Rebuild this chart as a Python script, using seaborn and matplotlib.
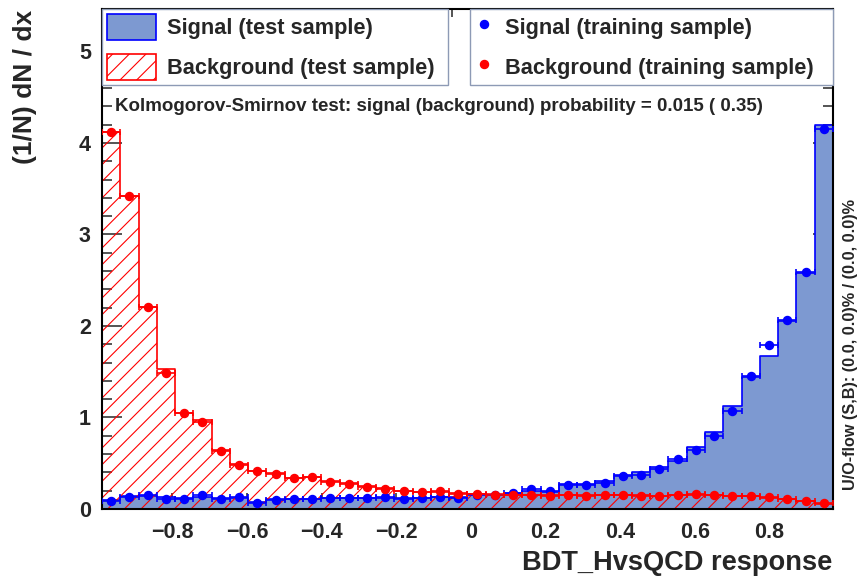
import numpy as np
import matplotlib
matplotlib.use("Agg")
import matplotlib.pyplot as plt
import seaborn as sns
from matplotlib.patches import Patch
from matplotlib.lines import Line2D
from matplotlib.ticker import MultipleLocator

# --- data (40 bins of the BDT response) ---
x_min, x_max, n_bins = -0.989, 0.970, 40

sig_test = [0.10, 0.14, 0.14, 0.13, 0.12, 0.13, 0.12, 0.12, 0.08, 0.11,
            0.11, 0.11, 0.115, 0.12, 0.12, 0.12, 0.12, 0.125, 0.13, 0.13,
            0.16, 0.15, 0.17, 0.20, 0.19, 0.27, 0.27, 0.31, 0.37, 0.40,
            0.46, 0.53, 0.68, 0.845, 1.125, 1.445, 1.675, 2.05, 2.58, 4.20]
sig_train = [0.091, 0.13, 0.15, 0.11, 0.11, 0.15, 0.11, 0.13, 0.07, 0.096,
             0.106, 0.106, 0.118, 0.118, 0.12, 0.135, 0.109, 0.125, 0.135, 0.124,
             0.155, 0.15, 0.175, 0.222, 0.198, 0.258, 0.265, 0.286, 0.362, 0.372,
             0.44, 0.546, 0.645, 0.80, 1.07, 1.45, 1.79, 2.07, 2.59, 4.15]
bkg_test = [4.12, 3.42, 2.21, 1.53, 1.046, 0.97, 0.645, 0.488, 0.415, 0.397,
            0.342, 0.346, 0.306, 0.28, 0.25, 0.225, 0.20, 0.19, 0.185, 0.17,
            0.165, 0.16, 0.155, 0.155, 0.15, 0.15, 0.15, 0.15, 0.15, 0.15,
            0.145, 0.15, 0.155, 0.15, 0.145, 0.14, 0.12, 0.11, 0.085, 0.06]
bkg_train = [4.12, 3.42, 2.21, 1.49, 1.046, 0.955, 0.636, 0.48, 0.412, 0.385,
             0.338, 0.346, 0.295, 0.27, 0.244, 0.222, 0.197, 0.183, 0.192, 0.166,
             0.164, 0.155, 0.152, 0.152, 0.141, 0.148, 0.147, 0.155, 0.153, 0.146,
             0.142, 0.153, 0.16, 0.153, 0.146, 0.146, 0.128, 0.106, 0.091, 0.062]

x_ticks = [-0.8, -0.6, -0.4, -0.2, 0.0, 0.2, 0.4, 0.6, 0.8]
x_tick_labels = ["\u22120.8", "\u22120.6", "\u22120.4", "\u22120.2", "0", "0.2", "0.4", "0.6", "0.8"]
y_ticks = [0, 1, 2, 3, 4, 5]
y_max = 5.46

labels_leg1 = ["Signal (test sample)", "Background (test sample)"]
labels_leg2 = ["Signal (training sample)", "Background (training sample)"]
ks_text = "Kolmogorov-Smirnov test: signal (background) probability = 0.015 ( 0.35)"
uo_text = "U/O-flow (S,B): (0.0, 0.0)% / (0.0, 0.0)%"

SIG_FILL = "#7d99d1"
SIG_LINE = "#0000ff"
BKG_LINE = "#ff0000"

sns.set_style("ticks")
plt.rcParams["font.family"] = ["Liberation Sans", "DejaVu Sans"]
plt.rcParams["font.weight"] = "bold"
plt.rcParams["hatch.color"] = BKG_LINE
plt.rcParams["hatch.linewidth"] = 0.8

edges = np.linspace(x_min, x_max, n_bins + 1)
centers = 0.5 * (edges[:-1] + edges[1:])
half_w = 0.5 * (edges[1] - edges[0])

fig = plt.figure(figsize=(8.59, 5.83), dpi=100)
ax = fig.add_axes([0.1187, 0.1269, 0.9697 - 0.1187, 0.984 - 0.1269])

# test samples as histograms
sns.histplot(x=centers, weights=sig_test, bins=list(edges), element="step", fill=True,
             color=SIG_FILL, facecolor=SIG_FILL, edgecolor=SIG_LINE, linewidth=1.2,
             alpha=1, ax=ax)
sns.histplot(x=centers, weights=bkg_test, bins=list(edges), element="step", fill=True,
             color=BKG_LINE, facecolor="none", edgecolor=BKG_LINE, hatch="//",
             linewidth=1.2, alpha=1, ax=ax)

# training samples as points
ax.errorbar(centers, sig_train, xerr=half_w, fmt="o", color=SIG_LINE, ms=5.8,
            elinewidth=1.2, capsize=2.5, capthick=1.2, zorder=5)
ax.errorbar(centers, bkg_train, xerr=half_w, fmt="o", color=BKG_LINE, ms=5.8,
            elinewidth=1.2, capsize=2.5, capthick=1.2, zorder=5)

ax.set_xlim(x_min, x_max)
ax.set_ylim(0, y_max)
ax.set_xlabel("")
ax.set_ylabel("")

ax.set_xticks(x_ticks)
ax.set_xticklabels(x_tick_labels)
ax.set_yticks(y_ticks)
ax.set_yticklabels([str(v) for v in y_ticks])
ax.xaxis.set_minor_locator(MultipleLocator(0.05))
ax.yaxis.set_minor_locator(MultipleLocator(0.2))

ax.tick_params(axis="x", which="major", direction="in", length=11.5, width=1.1,
               top=True, labelsize=15.5, pad=9.5)
ax.tick_params(axis="x", which="minor", direction="in", length=5.8, width=1.1, top=True)
ax.tick_params(axis="y", which="major", direction="in", length=14.4, width=1.1,
               right=True, labelsize=15.5, pad=8)
ax.tick_params(axis="y", which="minor", direction="in", length=7.2, width=1.1, right=True)
for s in ax.spines.values():
    s.set_linewidth(1.5)
    s.set_color("black")
    s.set_visible(True)

# legends
leg_kw = dict(loc="upper left", mode="expand", borderaxespad=0, fontsize=15.7,
              handleheight=1.48, handletextpad=0.5, labelspacing=0.6, borderpad=0.22,
              fancybox=False, framealpha=1, edgecolor="#8d9ab5")
h1 = [Patch(facecolor=SIG_FILL, edgecolor=SIG_LINE, linewidth=1.2),
      Patch(facecolor="white", edgecolor=BKG_LINE, hatch="//", linewidth=1.2)]
leg1 = ax.legend(h1, labels_leg1, bbox_to_anchor=(0, 1, 0.473, 0), handlelength=2.28, **leg_kw)
leg1.get_frame().set_linewidth(1.0)
ax.add_artist(leg1)
h2 = [Line2D([], [], marker="o", ls="none", color=SIG_LINE, ms=5.8),
      Line2D([], [], marker="o", ls="none", color=BKG_LINE, ms=5.8)]
leg2 = ax.legend(h2, labels_leg2, bbox_to_anchor=(0.503, 1, 0.497, 0), handlelength=0.9, **leg_kw)
leg2.get_frame().set_linewidth(1.0)

# texts
fig.text(115 / 859, 1 - 106 / 583, ks_text, fontsize=13.5, fontweight="bold", ha="left", va="center")
fig.text(851 / 859, 1 - 490 / 583, uo_text, fontsize=11.7, fontweight="bold",
         rotation=90, ha="center", va="bottom")
fig.text(832 / 859, 1 - 563 / 583, "BDT_HvsQCD response", fontsize=19.6, fontweight="bold",
         ha="right", va="center")
fig.text(25 / 859, 1 - 10 / 583, "(1/N) dN / dx", fontsize=19, fontweight="bold",
         rotation=90, ha="center", va="top")

fig.savefig("out.png", dpi=100)
